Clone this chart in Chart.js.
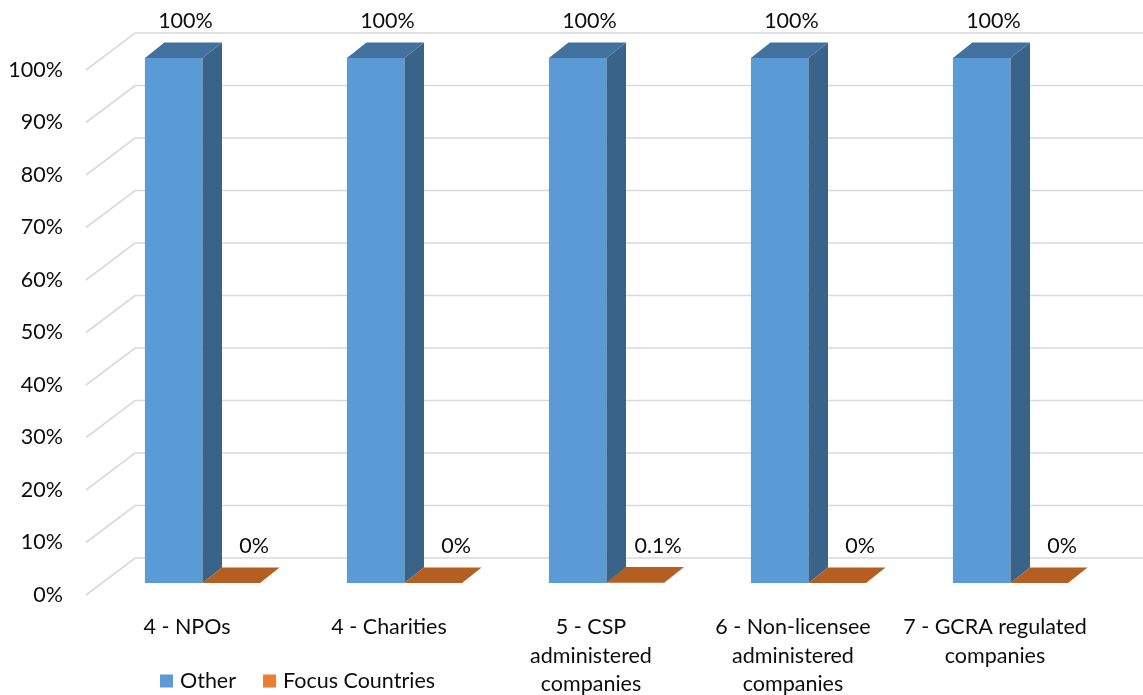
<!DOCTYPE html>
<html>
<head>
<meta charset="utf-8">
<script src="https://cdn.jsdelivr.net/npm/chart.js@4.4.1/dist/chart.umd.min.js"></script>
<style>
  html, body { margin: 0; padding: 0; background: #ffffff; }
  #wrap { width: 1143px; height: 695px; position: relative; }
</style>
</head>
<body>
<div id="wrap"><canvas id="chart"></canvas></div>
<script>
// Categories (multi-line labels) and series values (shares, 1 = 100%)
const categories = [
  ['4 - NPOs'],
  ['4 - Charities'],
  ['5 - CSP', 'administered', 'companies'],
  ['6 - Non-licensee', 'administered', 'companies'],
  ['7 - GCRA regulated', 'companies']
];
const otherValues = [1, 1, 1, 1, 1];
const focusValues = [0, 0, 0.001, 0, 0];
const seriesNames = ['Other', 'Focus Countries'];
const yTickValues = [0, 0.1, 0.2, 0.3, 0.4, 0.5, 0.6, 0.7, 0.8, 0.9, 1];

const FONT = 'Lato, "Open Sans", "Liberation Sans", sans-serif';
const FONT_SIZE = 21.5;
const TEXT_COLOR = '#0d0d0d';

// 3D look: back wall offset, bar placement inside the depth and bar depth
const WALL = { dx: 49, dy: -37 };
const BAR_SHIFT = { dx: 15.5, dy: -12 };
const BAR_DEPTH = { dx: 19.5, dy: -15.5 };

const faceColors = [
  { front: '#5B9BD5', top: '#41719C', side: '#3A6389', legend: '#5B9BD5', labelDx: 2 },
  { front: '#C0642A', top: '#B45E21', side: '#9A4F1B', legend: '#ED7D31', labelDx: 13 }
];

function fmtPct(v) {
  const p = Math.round(v * 1000) / 10;
  return p + '%';
}

const threeD = {
  id: 'threeD',
  beforeDatasetsDraw(chart) {
    const ctx = chart.ctx;
    const y = chart.scales.y;
    const area = chart.chartArea;
    // side wall and back wall grid lines
    ctx.save();
    ctx.strokeStyle = '#D9D9D9';
    ctx.lineWidth = 1.6;
    yTickValues.forEach(v => {
      const py = y.getPixelForValue(v);
      ctx.beginPath();
      ctx.moveTo(area.left, py);
      ctx.lineTo(area.left + WALL.dx, py + WALL.dy);
      ctx.lineTo(chart.width + 5, py + WALL.dy);
      ctx.stroke();
    });
    ctx.restore();
    // bars sit part way into the depth
    ctx.save();
    ctx.translate(BAR_SHIFT.dx, BAR_SHIFT.dy);
  },
  afterDatasetsDraw(chart) {
    const ctx = chart.ctx;
    chart.data.datasets.forEach((ds, di) => {
      const meta = chart.getDatasetMeta(di);
      const c = faceColors[di];
      meta.data.forEach(bar => {
        const { x, y, base, width } = bar.getProps(['x', 'y', 'base', 'width'], true);
        const l = x - width / 2, r = x + width / 2;
        // side face
        ctx.fillStyle = c.side;
        ctx.beginPath();
        ctx.moveTo(r, y);
        ctx.lineTo(r + BAR_DEPTH.dx, y + BAR_DEPTH.dy);
        ctx.lineTo(r + BAR_DEPTH.dx, base + BAR_DEPTH.dy);
        ctx.lineTo(r, base);
        ctx.closePath();
        ctx.fill();
        // top face
        ctx.fillStyle = c.top;
        ctx.beginPath();
        ctx.moveTo(l, y);
        ctx.lineTo(r, y);
        ctx.lineTo(r + BAR_DEPTH.dx, y + BAR_DEPTH.dy);
        ctx.lineTo(l + BAR_DEPTH.dx, y + BAR_DEPTH.dy);
        ctx.closePath();
        ctx.fill();
      });
    });
    ctx.restore();

    // value labels above each bar
    ctx.save();
    ctx.font = FONT_SIZE + 'px ' + FONT;
    ctx.fillStyle = TEXT_COLOR;
    ctx.textAlign = 'center';
    ctx.textBaseline = 'middle';
    chart.data.datasets.forEach((ds, di) => {
      const meta = chart.getDatasetMeta(di);
      meta.data.forEach((bar, i) => {
        const { x, y } = bar.getProps(['x', 'y'], true);
        const lx = x + BAR_SHIFT.dx + BAR_DEPTH.dx / 2 + faceColors[di].labelDx;
        const ly = y + BAR_SHIFT.dy + BAR_DEPTH.dy - 21;
        ctx.fillText(fmtPct(ds.data[i]), lx, ly);
      });
    });
    ctx.restore();
  },
  afterDraw(chart) {
    // legend at the bottom left
    const ctx = chart.ctx;
    ctx.save();
    ctx.font = FONT_SIZE + 'px ' + FONT;
    ctx.textBaseline = 'middle';
    ctx.textAlign = 'left';
    let lx = 160;
    const ly = 681;
    chart.data.datasets.forEach((ds, di) => {
      ctx.fillStyle = faceColors[di].legend;
      ctx.fillRect(lx, ly - 6.5, 13, 13);
      ctx.fillStyle = TEXT_COLOR;
      ctx.fillText(ds.label, lx + 20, ly);
      lx += 20 + ctx.measureText(ds.label).width + 27;
    });
    ctx.restore();
  }
};

new Chart(document.getElementById('chart'), {
  type: 'bar',
  data: {
    labels: categories,
    datasets: [
      {
        label: seriesNames[0],
        data: otherValues,
        backgroundColor: faceColors[0].front,
        categoryPercentage: 0.57,
        barPercentage: 1,
        clip: false
      },
      {
        label: seriesNames[1],
        data: focusValues,
        backgroundColor: faceColors[1].front,
        categoryPercentage: 0.57,
        barPercentage: 1,
        clip: false
      }
    ]
  },
  options: {
    responsive: true,
    maintainAspectRatio: false,
    devicePixelRatio: 1,
    animation: false,
    layout: { padding: { top: 70, right: 47, left: 0, bottom: 0 } },
    plugins: {
      legend: { display: false },
      tooltip: { enabled: false }
    },
    scales: {
      x: {
        grid: { display: false, drawTicks: false },
        border: { display: false },
        ticks: {
          color: TEXT_COLOR,
          font: { family: FONT, size: FONT_SIZE, lineHeight: 1.33 },
          padding: 18,
          maxRotation: 0,
          autoSkip: false
        },
        afterFit(scale) { scale.height = 100; }
      },
      y: {
        min: 0,
        max: 1,
        grid: { display: false, drawTicks: false },
        border: { display: false },
        afterBuildTicks(scale) {
          scale.ticks = yTickValues.map(v => ({ value: v }));
        },
        ticks: {
          color: TEXT_COLOR,
          font: { family: FONT, size: FONT_SIZE },
          padding: 23,
          callback: v => Math.round(v * 100) + '%'
        },
        afterFit(scale) { scale.width = 86; }
      }
    }
  },
  plugins: [threeD]
});
</script>
</body>
</html>
